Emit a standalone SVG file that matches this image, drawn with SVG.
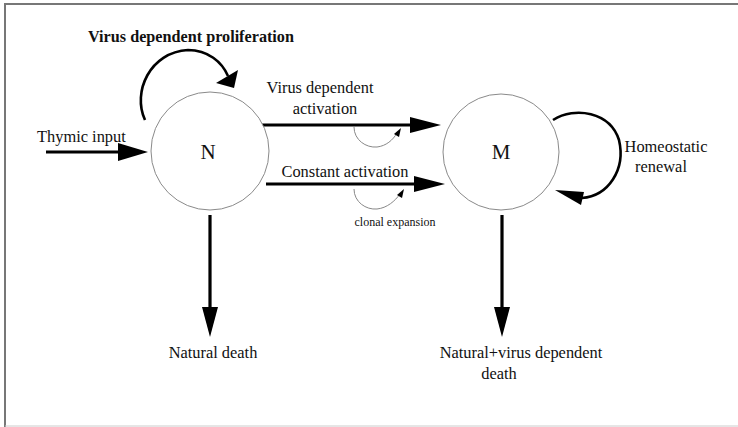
<svg xmlns="http://www.w3.org/2000/svg" width="738" height="427" viewBox="0 0 738 427">
<style>
text{font-family:"Liberation Serif","Times New Roman",serif;fill:#111}
.lbl{font-size:16.4px}
.node{fill:#fff;stroke:#8a8a8a;stroke-width:1}
.thick{stroke:#000;stroke-width:3.2;fill:none}
.loop{stroke:#000;stroke-width:2.6;fill:none}
.thin{stroke:#888;stroke-width:1;fill:none}
.head{fill:#000}
</style>
<rect width="738" height="427" fill="#fff"/>
<path d="M5,427 V4 H738" fill="none" stroke="#777" stroke-width="2"/>
<path d="M5,426 H738" fill="none" stroke="#ccc" stroke-width="1"/>

<g id="connectors">
  <line class="thick" x1="46" y1="152" x2="122" y2="152"/>
  <polygon class="head" points="148,152 118,143 118,161"/>
  <path class="loop" d="M145,120 C132,92 150,52 188,50 C208,50 222,62 228,76"/>
  <polygon class="head" points="216,83 238,70 234,88"/>
  <line class="thick" x1="262" y1="125" x2="414" y2="125"/>
  <polygon class="head" points="441,125 410,117 410,133"/>
  <line class="thick" x1="266" y1="184" x2="418" y2="184"/>
  <polygon class="head" points="445,184 414,176 414,192"/>
  <path class="thin" d="M354,127 C354,140 366,148 377,147 C386,146 393,140 397,133"/>
  <polygon class="head" points="401,128 399,137 394,134"/>
  <path class="thin" d="M354,189 C354,202 366,210 377,209 C387,208 395,201 400,194"/>
  <polygon class="head" points="404,189 402,198 397,195"/>
  <path class="loop" d="M553,120 C575,106 610,112 619,140 C626,170 608,196 582,198"/>
  <polygon class="head" points="555,190 584,192 581,205"/>
  <line class="thick" x1="210" y1="215" x2="210" y2="312"/>
  <polygon class="head" points="210,337 202,307 218,307"/>
  <line class="thick" x1="502" y1="215" x2="502" y2="312"/>
  <polygon class="head" points="502,337 494,307 510,307"/>
</g>

<g id="node-N">
  <circle class="node" cx="210" cy="151" r="59"/>
  <text x="208" y="159" font-size="21" text-anchor="middle">N</text>
</g>
<g id="node-M">
  <circle class="node" cx="501" cy="152" r="58"/>
  <text x="501" y="159" font-size="21" text-anchor="middle">M</text>
</g>

<g id="labels">
  <text x="191" y="42" font-size="16.2" font-weight="bold" text-anchor="middle">Virus dependent proliferation</text>
  <text class="lbl" x="37" y="142">Thymic input</text>
  <text class="lbl" x="320" y="93" text-anchor="middle">Virus dependent</text>
  <text class="lbl" x="325" y="114" text-anchor="middle">activation</text>
  <text class="lbl" x="345" y="177" text-anchor="middle">Constant activation</text>
  <text x="395" y="226" font-size="12" text-anchor="middle">clonal expansion</text>
  <text class="lbl" x="666" y="152" text-anchor="middle">Homeostatic</text>
  <text class="lbl" x="661" y="172" text-anchor="middle">renewal</text>
  <text class="lbl" x="213" y="358" text-anchor="middle">Natural death</text>
  <text class="lbl" x="521" y="358" text-anchor="middle">Natural+virus dependent</text>
  <text class="lbl" x="499" y="379" text-anchor="middle">death</text>
</g>
</svg>
